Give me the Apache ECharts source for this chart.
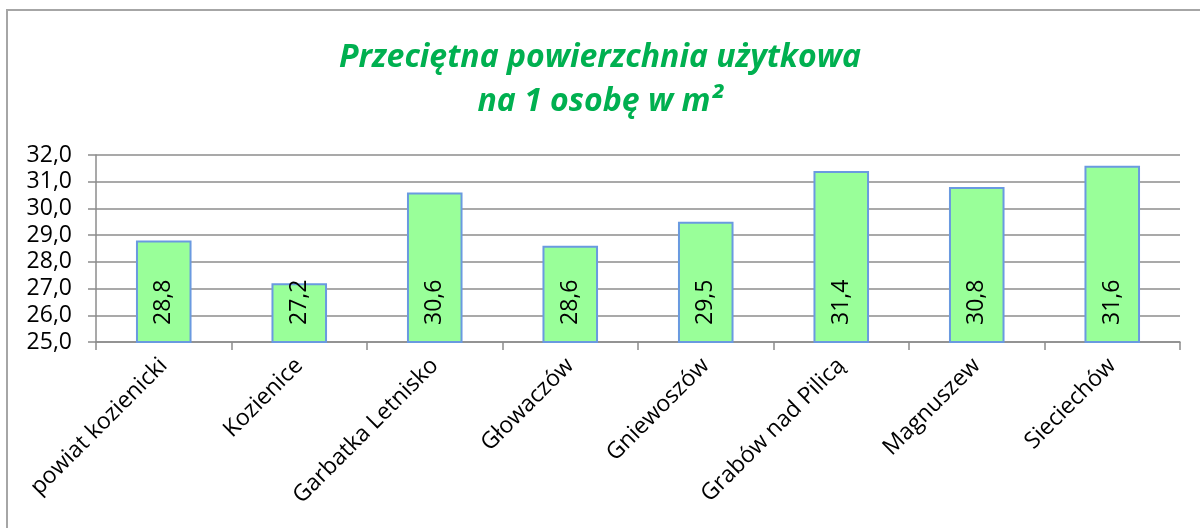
<!DOCTYPE html>
<html>
<head>
<meta charset="utf-8">
<script src="https://cdn.jsdelivr.net/npm/echarts@6/dist/echarts.min.js"></script>
<style>
  html, body { margin: 0; padding: 0; background: #fff; }
  #main { width: 1200px; height: 528px; }
</style>
</head>
<body>
<div id="main"></div>
<script>
  // dane z wykresu
  var gminy = ['powiat kozienicki', 'Kozienice', 'Garbatka Letnisko', 'Głowaczów',
    'Gniewoszów', 'Grabów nad Pilicą', 'Magnuszew', 'Sieciechów'];
  var powierzchnia = [28.8, 27.2, 30.6, 28.6, 29.5, 31.4, 30.8, 31.6];
  var yMin = 25, yMax = 32, yStep = 1;

  var myChart = echarts.init(document.getElementById('main'));

  // przecinek zamiast kropki
  function pl(v) {
    return v.toFixed(1).replace('.', ',');
  }

  var option = {
    backgroundColor: '#fff',
    animation: false,
    graphic: [{
      type: 'rect',
      shape: { x: 7, y: 10, width: 1210, height: 540 },
      style: { fill: 'none', stroke: '#a6a6a6', lineWidth: 2 },
      silent: true
    }],
    title: {
      text: 'Przeciętna powierzchnia użytkowa\nna 1 osobę w m²',
      left: 'center',
      top: 31,
      textStyle: {
        color: '#00b050',
        fontSize: 32,
        fontWeight: 'bold',
        fontStyle: 'italic',
        fontFamily: 'Open Sans',
        lineHeight: 44
      }
    },
    grid: { left: 96, right: 20, top: 155, bottom: 186, containLabel: false },
    xAxis: {
      type: 'category',
      data: gminy,
      axisLine: { lineStyle: { color: '#8c8c8c', width: 1.5 } },
      axisTick: { show: true, length: 8, lineStyle: { color: '#8c8c8c', width: 1.5 } },
      axisLabel: {
        rotate: 45,
        interval: 0,
        margin: 20,
        color: '#000',
        fontSize: 23,
        fontFamily: 'Open Sans'
      }
    },
    yAxis: {
      type: 'value',
      min: yMin,
      max: yMax,
      interval: yStep,
      axisLine: { show: true, lineStyle: { color: '#8c8c8c', width: 1.5 } },
      axisTick: { show: true, length: 8, lineStyle: { color: '#8c8c8c', width: 1.5 } },
      splitLine: { lineStyle: { color: '#8c8c8c', width: 1.5 } },
      axisLabel: {
        margin: 24,
        color: '#000',
        fontSize: 23,
        fontFamily: 'Open Sans',
        formatter: function (v) { return pl(v); }
      }
    },
    series: [{
      type: 'bar',
      data: powierzchnia,
      barWidth: '41%',
      itemStyle: { color: '#99ff99', borderColor: '#6a9ae0', borderWidth: 2 },
      label: {
        show: true,
        position: 'insideBottom',
        distance: 18,
        rotate: 90,
        align: 'left',
        verticalAlign: 'middle',
        color: '#000',
        fontSize: 23,
        fontFamily: 'Open Sans',
        formatter: function (p) { return pl(p.value); }
      }
    }]
  };

  myChart.setOption(option);
</script>
</body>
</html>
